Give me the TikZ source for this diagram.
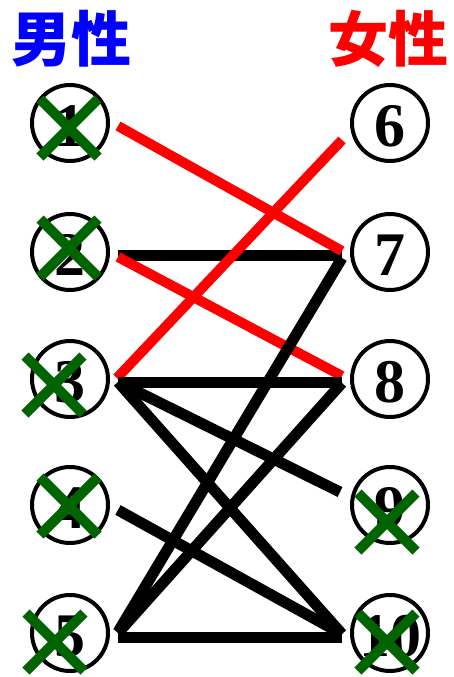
\documentclass[tikz,border=0pt]{standalone}
\usepackage{fontspec}
\setmainfont{Liberation Serif}
\newfontfamily\cjk{Noto Sans CJK JP}
\usetikzlibrary{calc}
\definecolor{xgreen}{RGB}{0,100,0}
\definecolor{tblue}{RGB}{0,0,255}
\definecolor{tred}{RGB}{255,0,0}
\begin{document}
\begin{tikzpicture}[x=1pt,y=-1pt,
  circ/.style={draw=black,line width=4pt,circle,minimum size=76pt,inner sep=0pt},
  num/.style={font=\fontsize{62}{62}\selectfont\bfseries,inner sep=0pt},
  title/.style={font=\cjk\fontsize{60}{60}\selectfont\bfseries,inner sep=0pt},
  redline/.style={draw=tred,line width=10pt,line cap=butt},
  blackline/.style={draw=black,line width=11pt,line cap=butt},
  xline/.style={draw=xgreen,line width=10pt,line cap=butt},
  xmark/.pic={\draw[xline] (-29,-29) -- (29,29) (-29,29) -- (29,-29);}
]
\useasboundingbox (0,0) rectangle (453,677);
\fill[white] (0,0) rectangle (453,677);
% titles
\node[title,text=tblue] (tm) at (72,39) {男性};
\node[title,text=tred] (tf) at (388,39) {女性};
% circles
\foreach \i/\x/\y in {1/70/123,2/70/252,3/70/379,4/70/505,5/70/633,6/390/123,7/390/252,8/390/379,9/390/505,10/390/633}{
  \node[circ] (n\i) at (\x,\y) {};
  \node[num] (t\i) at (\x,\y+3) {\i};
}
% connector end points
\coordinate (a1) at (118,126);  \coordinate (b7) at (342,251);
\coordinate (a2) at (118,257);  \coordinate (b8) at (342,376);
\coordinate (b6) at (342,140);  \coordinate (a3) at (117,378);
\coordinate (c2) at (118,255.5);\coordinate (d7) at (342,255.5);
\coordinate (d7b) at (342,258); \coordinate (c5) at (118,632);
\coordinate (c3) at (118,382);  \coordinate (d8) at (342,382);
\coordinate (d8b) at (342,383); \coordinate (c5b) at (118,633);
\coordinate (d9) at (340,492);  \coordinate (d10) at (342,634);
\coordinate (c4) at (118,510);
\coordinate (c5c) at (118,637); \coordinate (d10b) at (342,637);
% edges
\draw[blackline] (c2) -- (d7);
\draw[redline] (a1) -- (b7);
\draw[redline] (a2) -- (b8);
\draw[redline] (b6) -- (a3);
\draw[blackline] (d7b) -- (c5);
\draw[blackline] (c3) -- (d8);
\draw[blackline] (d8b) -- (c5b);
\draw[blackline] (c3) -- (d9);
\draw[blackline] (c3) -- (d10);
\draw[blackline] (c4) -- (d10);
\draw[blackline] (c5c) -- (d10b);
% crosses
\pic at (69,128) {xmark};
\pic at (69,248) {xmark};
\pic at (54,385) {xmark};
\pic at (69,506) {xmark};
\pic at (55,642) {xmark};
\pic at (387,522) {xmark};
\pic at (387,642) {xmark};
\end{tikzpicture}
\end{document}
